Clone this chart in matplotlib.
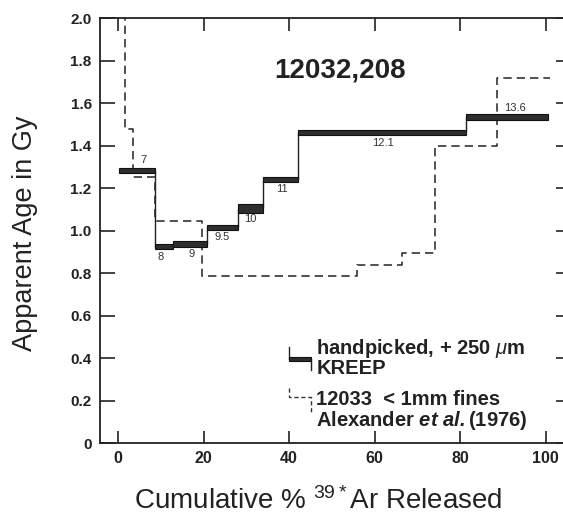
import matplotlib
matplotlib.use("Agg")
import matplotlib.pyplot as plt
from matplotlib.patches import Rectangle

plt.rcParams['font.family'] = ['Liberation Sans', 'DejaVu Sans']
plt.rcParams['mathtext.fontset'] = 'custom'
plt.rcParams['mathtext.rm'] = 'Liberation Sans'
plt.rcParams['mathtext.it'] = 'Liberation Sans:italic'
plt.rcParams['mathtext.bf'] = 'Liberation Sans:bold'
try:
    plt.rcParams['mathtext.bfit'] = 'Liberation Sans:italic:bold'
    HAS_BFIT = True
except KeyError:
    HAS_BFIT = False

# ---- data ----
# handpicked KREEP (step edges in cumulative %, ages in Gy, half-thickness of band)
kreep_edges = [0.2, 8.7, 12.9, 20.8, 28.1, 34.0, 42.1, 81.4, 100.6]
kreep_ages = [1.283, 0.924, 0.938, 1.015, 1.105, 1.24, 1.463, 1.535]
kreep_err = [0.013, 0.012, 0.013, 0.012, 0.02, 0.012, 0.011, 0.015]
kreep_labels = ['7', '8', '9', '9.5', '10', '11', '12.1', '13.6']
label_x = [5.9, 10.0, 17.3, 24.3, 30.9, 38.4, 62.0, 92.9]
label_y = [1.33, 0.875, 0.89, 0.97, 1.055, 1.195, 1.41, 1.575]

# 12033 <1mm fines, Alexander et al. (1976)
fines_edges = [-1.0, 1.6, 3.6, 8.7, 19.6, 55.9, 66.4, 74.2, 88.7, 101.0]
fines_ages = [2.3, 1.48, 1.25, 1.045, 0.785, 0.84, 0.894, 1.40, 1.72]

# legend key shapes
leg_solid_x = [39.9, 39.9, 45.1, 45.1]
leg_solid_y = [0.45, 0.395, 0.395, 0.343]
leg_dash_x = [40.0, 40.0, 45.0, 45.0]
leg_dash_y = [0.26, 0.216, 0.216, 0.146]

xticks = [0, 20, 40, 60, 80, 100]
yticks = [0, 0.2, 0.4, 0.6, 0.8, 1.0, 1.2, 1.4, 1.6, 1.8, 2.0]
ytick_labels = ['0', '0.2', '0.4', '0.6', '0.8', '1.0', '1.2', '1.4', '1.6', '1.8', '2.0']

fig = plt.figure(figsize=(5.63, 5.19), dpi=100)
ax = fig.add_axes([0.1776, 0.1464, 0.836, 0.8186])
ax.set_xlim(-4.2, 105.8)
ax.set_ylim(0, 2.0)

# dashed step line
xs, ys = [], []
for i, a in enumerate(fines_ages):
    xs += [fines_edges[i], fines_edges[i + 1]]
    ys += [a, a]
ax.plot(xs, ys, color='#333333', lw=1.2, ls=(0, (5, 3)))

# solid: thin connecting verticals then bands
for i in range(1, len(kreep_ages)):
    ax.plot([kreep_edges[i], kreep_edges[i]], [kreep_ages[i - 1], kreep_ages[i]],
            color='#222222', lw=1.0, solid_capstyle='butt')
for i, a in enumerate(kreep_ages):
    e = kreep_err[i]
    ax.add_patch(Rectangle((kreep_edges[i], a - e), kreep_edges[i + 1] - kreep_edges[i], 2 * e,
                           facecolor='#2e2e2e', edgecolor='#111111', lw=0.8, zorder=3))
for t, lx, ly in zip(kreep_labels, label_x, label_y):
    ax.text(lx, ly, t, fontsize=8, ha='center', va='center', color='#333333')

# legend keys
ax.plot(leg_solid_x[:2], leg_solid_y[:2], color='#222222', lw=1.0)
ax.plot(leg_solid_x[2:], leg_solid_y[2:], color='#222222', lw=1.0)
ax.add_patch(Rectangle((leg_solid_x[1], leg_solid_y[1] - 0.011), leg_solid_x[2] - leg_solid_x[1], 0.022,
                       facecolor='#2e2e2e', edgecolor='#111111', lw=0.8, zorder=3))
ax.plot(leg_dash_x, leg_dash_y, color='#333333', lw=1.0, ls=(0, (3, 2)))

tx = 46.4
fs_leg = 14.5
ax.text(tx, 0.447, r'handpicked, + 250 $\mu$m', fontsize=fs_leg, fontweight='bold',
        ha='left', va='center', color='#222222')
ax.text(tx, 0.352, 'KREEP', fontsize=fs_leg, fontweight='bold', ha='left', va='center', color='#222222')
ax.text(tx, 0.205, '12033  < 1mm fines', fontsize=fs_leg, fontweight='bold', ha='left', va='center',
        color='#222222')
if HAS_BFIT:
    alex = r'Alexander $\mathbfit{et\ al.}$(1976)'
else:
    alex = r'Alexander $\mathbf{et\ al.}$(1976)'
ax.text(tx, 0.108, alex, fontsize=fs_leg, fontweight='bold', ha='left', va='center', color='#222222')

ax.text(52, 1.755, '12032,208', fontsize=20, fontweight='bold', ha='center', va='center',
        color='#222222')

# axes styling
for s in ax.spines.values():
    s.set_linewidth(1.3)
    s.set_color('#222222')
ax.set_xticks(xticks)
ax.set_xticklabels([str(v) for v in xticks], fontsize=11.5, fontweight='bold', color='#222222')
ax.set_yticks(yticks)
ax.set_yticklabels(ytick_labels, fontsize=11, fontweight='bold', color='#222222')
ax.tick_params(axis='x', direction='in', length=9, width=1.2, top=True, pad=6, colors='#222222')
ax.tick_params(axis='y', direction='in', length=11, width=1.2, right=True, pad=6, colors='#222222')

fig.text(0.044, 0.551, 'Apparent Age in Gy', rotation=90, fontsize=19.5, ha='center', va='center',
         color='#222222')
fig.text(0.565, 0.034, r'Cumulative % $^{\mathrm{39*}}$Ar Released', fontsize=20, ha='center',
         va='center', color='#222222')

fig.savefig('out.png', dpi=100)
